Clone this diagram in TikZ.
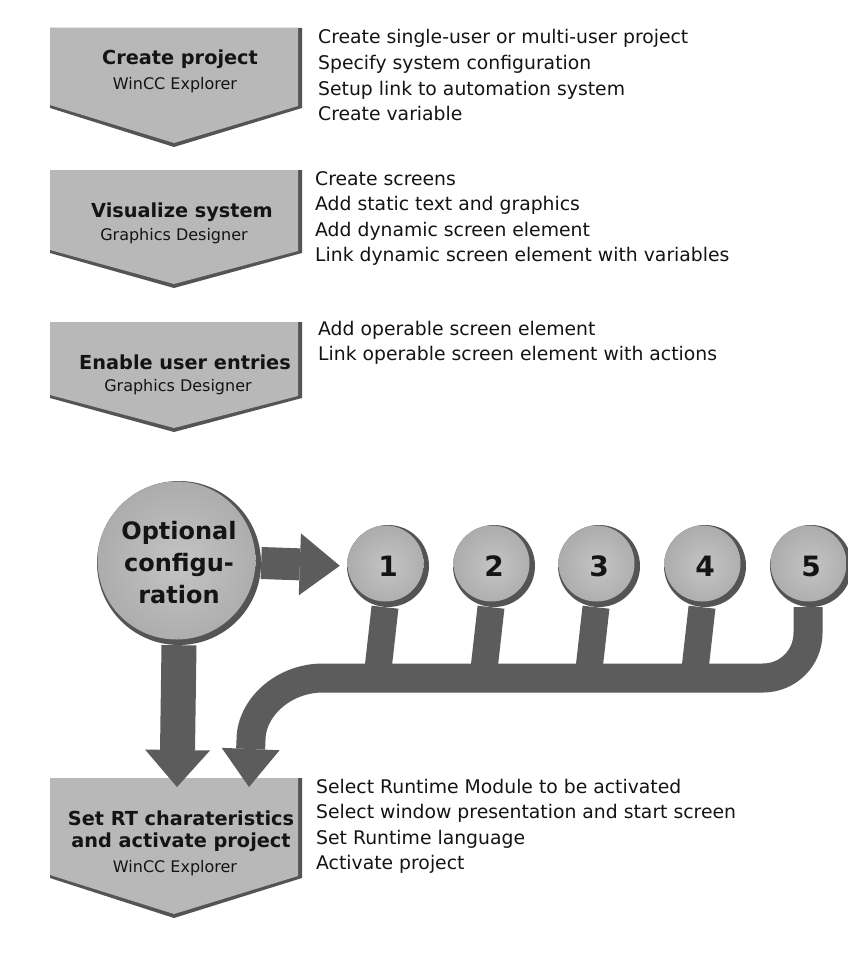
\documentclass[tikz,border=0pt]{standalone}
\usepackage{fontspec}
\setmainfont{DejaVu Sans}
\usetikzlibrary{arrows.meta,calc}

\definecolor{boxgray}{RGB}{184,184,184}
\definecolor{rimgray}{RGB}{84,84,84}
\definecolor{ballgray}{RGB}{172,172,172}
\definecolor{ballhi}{RGB}{196,196,196}
\definecolor{flowgray}{RGB}{92,92,92}
\definecolor{ink}{RGB}{20,20,20}

\pgfdeclarelayer{boxes}
\pgfdeclarelayer{flows}
\pgfsetlayers{boxes,flows,main}

% chevron shaped step box: top edge, lower corner height, tip height
\newcommand\chevronbox[3]{%
  \fill[rimgray] (50,#1) -- (302,#1) -- (302,#2) -- (174,#3) -- (50,#2) -- cycle;
  \fill[boxgray] (50,#1) -- (298,#1) -- (298,{#2-2}) -- (174,{#3-4}) -- (50,{#2-3}) -- cycle;
}

\begin{document}
\begin{tikzpicture}[x=1pt,y=-1pt,
  title/.style={font=\bfseries\fontsize{19.3}{22}\selectfont, align=center, inner sep=0pt, text=ink},
  tool/.style={font=\fontsize{16}{18}\selectfont, inner sep=0pt, text=ink},
  item/.style={font=\fontsize{18.8}{22}\selectfont, anchor=base west, inner sep=0pt, text=ink},
  ball/.style={circle, inner sep=0pt, minimum size=#1, fill=rimgray, text=ink,
    path picture={
      \shade[inner color=ballhi, outer color=ballgray]
        ($(path picture bounding box.center)+(-2.5,-2.5)$) circle ({#1/2-3});
    }},
  digit/.style={ball=82, font=\bfseries\fontsize{28}{30}\selectfont},
  flow/.style={draw=flowgray, line cap=butt},
]
\useasboundingbox (0,0) rectangle (848,958);

% ---- step boxes ----
\begin{pgfonlayer}{boxes}
\fill[white] (0,0) rectangle (848,958);
\chevronbox{28}{108}{147}
\chevronbox{170}{253}{288}
\chevronbox{322}{398}{432}
\chevronbox{778}{878}{918}
\end{pgfonlayer}

\node[title] (s1) at (180,59) {Create project};
\node[tool]  (t1) at (175,85) {WinCC Explorer};
\node[title] (s2) at (182,212) {Visualize system};
\node[tool]  (t2) at (174,236) {Graphics Designer};
\node[title] (s3) at (185,362) {Enable user entries};
\node[tool]  (t3) at (178,387) {Graphics Designer};
\node[title] (s4) at (181,831) {Set RT charateristics\\and activate project};
\node[tool]  (t4) at (175,868) {WinCC Explorer};

% ---- task lists ----
\foreach \t [count=\i] in {Create single-user or multi-user project,
    Specify system configuration, Setup link to automation system, Create variable}
  \node[item] (a\i) at (318,{44+25.5*(\i-1)}) {\t};
\foreach \t [count=\i] in {Create screens, Add static text and graphics,
    Add dynamic screen element, Link dynamic screen element with variables}
  \node[item] (b\i) at (315,{185+25.5*(\i-1)}) {\t};
\foreach \t [count=\i] in {Add operable screen element,
    Link operable screen element with actions}
  \node[item] (c\i) at (318,{335+25.5*(\i-1)}) {\t};
\foreach \t [count=\i] in {Select Runtime Module to be activated,
    Select window presentation and start screen, Set Runtime language, Activate project}
  \node[item] (d\i) at (316,{793+25.5*(\i-1)}) {\t};

% ---- optional configuration and its numbered options ----
\node[ball=164, font=\bfseries\fontsize{24}{32}\selectfont, align=center] (opt) at (179,563)
  {Optional\\configu-\\ration};
\foreach \n [count=\i] in {388,494,599,705,811}
  \node[digit] (o\i) at (\n,566) {\i};

\coordinate (tipA) at (177,787);
\coordinate (tipB) at (249,787);

\begin{pgfonlayer}{flows}
% stems from the numbered options down to the collecting bar
\foreach \i in {1,...,4}
  \draw[flow, line width=27pt] ([xshift=-3pt]o\i.south) -- ++(-7,62);

% collecting bar into the final step
\draw[flow, line width=29pt, -{Triangle[length=38pt,width=58pt,line width=0pt]}]
  ([xshift=-3pt]o5.south) -- (808,633) .. controls (808,658) and (788,678) .. (763,678)
  -- (323,678) .. controls (283,678) and (251,708) .. (251,740) -- (tipB);

% arrows out of the optional configuration
\draw[flow, line width=35pt, -{Triangle[length=37pt,width=65pt,line width=0pt]}]
  (opt.south) -- (tipA);
\draw[flow, line width=32pt, -{Triangle[length=40pt,width=62pt,line width=0pt]},
  shorten >=7pt] (opt.east) -- (o1.west);
\end{pgfonlayer}
\end{tikzpicture}
\end{document}
